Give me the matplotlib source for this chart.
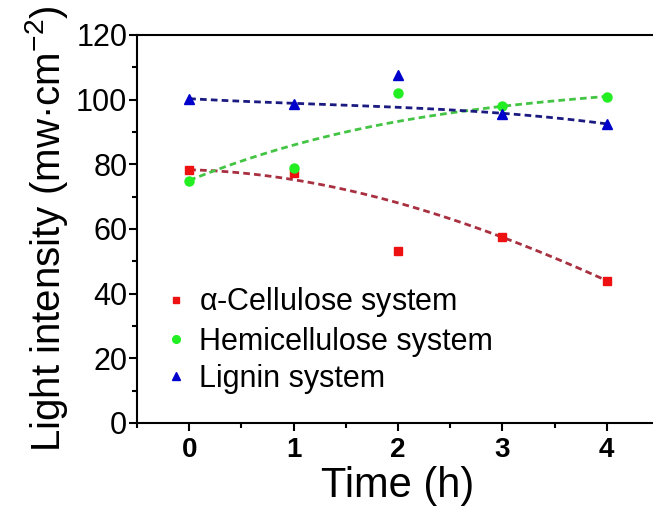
import numpy as np
import matplotlib
matplotlib.use("Agg")
import matplotlib.pyplot as plt
from matplotlib.ticker import MultipleLocator

plt.rcParams['font.family'] = ['Liberation Sans', 'DejaVu Sans']
plt.rcParams['mathtext.fontset'] = 'custom'
plt.rcParams['mathtext.rm'] = 'Liberation Sans'
plt.rcParams['mathtext.it'] = 'Liberation Sans:italic'
plt.rcParams['mathtext.default'] = 'regular'

# measured points
time_h = [0, 1, 2, 3, 4]
cellulose = [78.3, 77.3, 53.2, 57.5, 44.0]
hemicellulose = [74.8, 78.8, 102.2, 98.0, 100.9]
lignin = [100.3, 98.7, 107.6, 95.6, 92.5]

# trend (dashed) curves at each time
cellulose_fit = [78.3, 75.3, 68.0, 57.5, 44.0]
hemicellulose_fit = [75.0, 86.0, 93.2, 98.0, 101.0]
lignin_fit = [100.3, 98.9, 97.6, 95.8, 92.5]

labels = [r'$\alpha$-Cellulose system', 'Hemicellulose system', 'Lignin system']

fig = plt.figure(figsize=(6.53, 5.14), dpi=100)
ax = fig.add_axes([137/653, 1 - 423/514, 522/653, 388/514])

xs = np.linspace(0, 4, 100)
for fit, col in [(cellulose_fit, '#a83040'), (hemicellulose_fit, '#44c444'),
                 (lignin_fit, '#1a1a80')]:
    c = np.polyfit(time_h, fit, 3)
    ax.plot(xs, np.polyval(c, xs), ls=(0, (2.4, 1.5)), lw=2, color=col, zorder=2)

ax.plot(time_h, cellulose, 's', color='#ee1111', ms=5.5, label=labels[0], zorder=3)
ax.plot(time_h, hemicellulose, 'o', color='#22ee22', ms=6.5, label=labels[1], zorder=3)
ax.plot(time_h, lignin, '^', color='#0000cc', ms=7, label=labels[2], zorder=3)

ax.set_xlim(-0.5, 4.5)
ax.set_ylim(0, 120)
ax.xaxis.set_major_locator(MultipleLocator(1))
ax.xaxis.set_minor_locator(MultipleLocator(0.5))
ax.yaxis.set_major_locator(MultipleLocator(20))
ax.yaxis.set_minor_locator(MultipleLocator(10))
for s in ax.spines.values():
    s.set_linewidth(1.5)
ax.tick_params(which='major', length=6, width=1.5, direction='out')
ax.tick_params(which='minor', length=3.5, width=1.5, direction='out')
ax.tick_params(axis='y', labelsize=22, pad=1)
ax.tick_params(axis='x', labelsize=20, pad=4)
for t in ax.get_xticklabels():
    t.set_fontweight('bold')

ax.set_xlabel('Time (h)', fontsize=30, labelpad=2)
ax.set_ylabel('Light intensity (mw\u00b7cm$^{-2}$)', fontsize=29, labelpad=4)

ax.legend(loc='upper left', bbox_to_anchor=(152/653, 1 - 270/514),
          bbox_transform=fig.transFigure, frameon=False, fontsize=22,
          handlelength=0.6, handletextpad=0.45, labelspacing=0.24,
          markerscale=0.85, borderpad=0)

fig.savefig('out.png', dpi=100)
